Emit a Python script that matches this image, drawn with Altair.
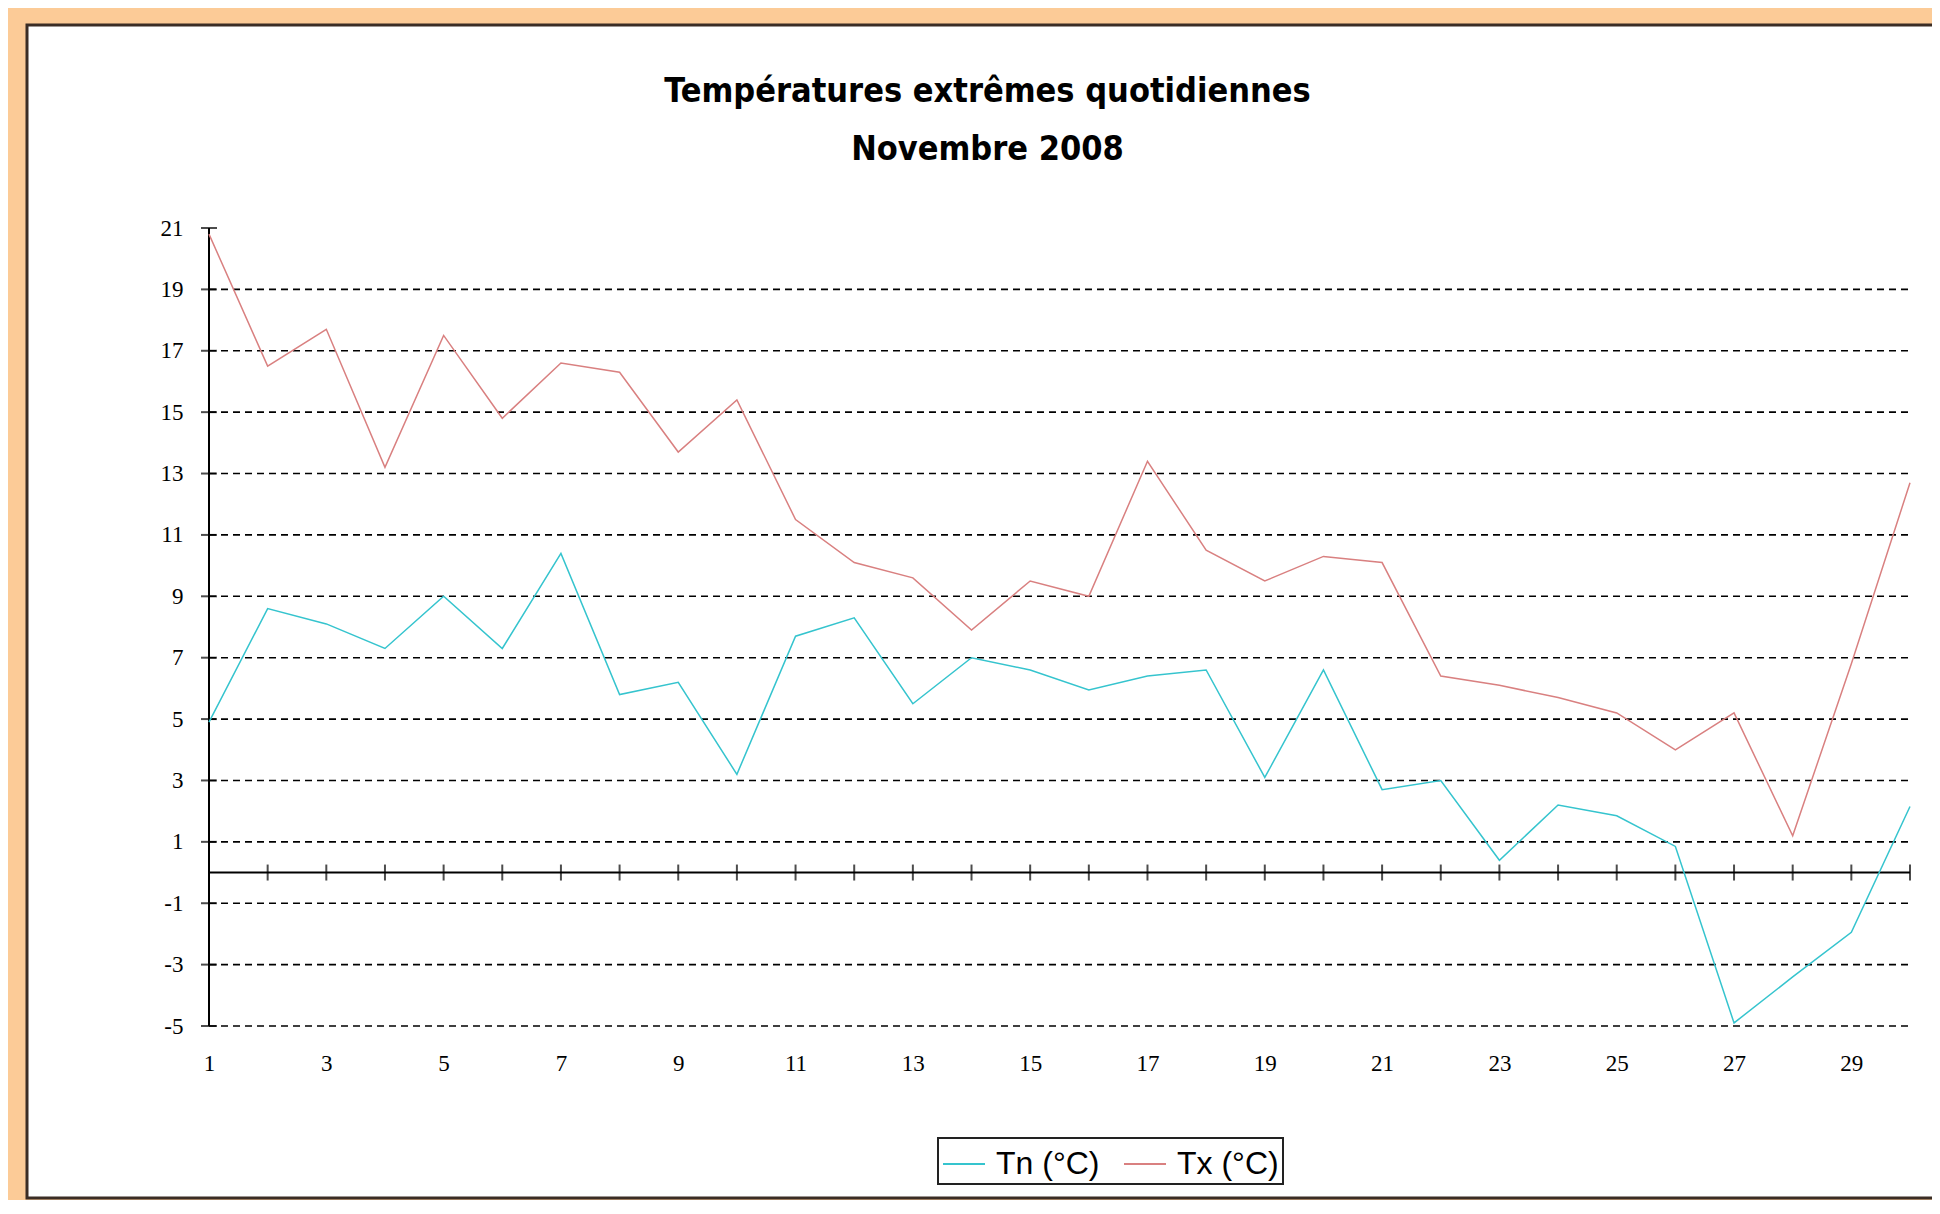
import altair as alt
import pandas as pd

# ---- data ----
days = list(range(1, 31))
tn = [4.9, 8.6, 8.1, 7.3, 9.0, 7.3, 10.4, 5.8, 6.2, 3.2,
      7.7, 8.3, 5.5, 7.0, 6.6, 5.95, 6.4, 6.6, 3.1, 6.6,
      2.7, 3.0, 0.4, 2.2, 1.85, 0.85, -4.9, -3.4, -1.95, 2.15]
tx = [20.8, 16.5, 17.7, 13.2, 17.5, 14.8, 16.6, 16.3, 13.7, 15.4,
      11.5, 10.1, 9.6, 7.9, 9.5, 9.0, 13.4, 10.5, 9.5, 10.3,
      10.1, 6.4, 6.1, 5.7, 5.2, 4.0, 5.2, 1.2, 6.8, 12.7]
series_names = ["Tn (°C)", "Tx (°C)"]
series_colors = ["#35C4CE", "#D98080"]
x_label_days = list(range(1, 30, 2))
y_tick_values = list(range(-5, 22, 2))
grid_values = list(range(-5, 20, 2))
title_line1 = "Températures extrêmes quotidiennes"
title_line2 = "Novembre 2008"

W, H = 1701, 798

df = pd.DataFrame({
    "day": days * 2,
    "temp": tn + tx,
    "serie": [series_names[0]] * len(days) + [series_names[1]] * len(days),
})

xs = alt.Scale(domain=[1, 30], nice=False, zero=False)
ys = alt.Scale(domain=[-5, 21], nice=False, zero=False)

label_font = "Liberation Serif"
title_font = "DejaVu Sans Condensed, DejaVu Sans"

x_axis = alt.Axis(values=x_label_days, title=None, grid=False, domain=False,
                  ticks=False, tickSize=0, labelPadding=26, labelFont=label_font,
                  labelFontSize=23, labelColor="black", zindex=1,
                  labelFlush=False, labelOverlap=False,
                  labelExpr="'' + datum.value")
y_axis = alt.Axis(values=y_tick_values, title=None, grid=False, domain=False,
                  ticks=False, tickSize=0, labelPadding=26, labelFont=label_font,
                  labelFontSize=23, labelColor="black", zindex=1,
                  labelFlush=False, labelOverlap=False,
                  labelExpr="'' + datum.value")


def X(field):
    return alt.X(field, scale=xs, axis=x_axis)


def Y(field):
    return alt.Y(field, scale=ys, axis=y_axis)


one = pd.DataFrame({"k": [0]})

# white chart area with dark border (decoration)
frame = alt.Chart(one).mark_rect(
    fill="white", stroke="#3b2d25", strokeWidth=3
).encode(x=alt.value(-182), x2=alt.value(W + 80),
         y=alt.value(-203), y2=alt.value(H + 172))

title1 = alt.Chart(one).mark_text(
    text=title_line1, font=title_font, fontSize=34,
    fontWeight="bold", color="black", align="center", baseline="alphabetic"
).encode(x=alt.value(W / 2 - 72), y=alt.value(-126))

title2 = alt.Chart(one).mark_text(
    text=title_line2, font=title_font, fontSize=34,
    fontWeight="bold", color="black", align="center", baseline="alphabetic"
).encode(x=alt.value(W / 2 - 72), y=alt.value(-68))

grid_df = pd.DataFrame({"g": grid_values, "x0": 1, "x1": 30})
grid = alt.Chart(grid_df).mark_rule(
    color="black", strokeWidth=1.6, strokeDash=[7, 5]
).encode(y=Y("g:Q"), x=X("x0:Q"), x2="x1:Q")

xline = alt.Chart(pd.DataFrame({"y0": [0], "x0": [1], "x1": [30]})).mark_rule(
    color="black", strokeWidth=2
).encode(y=Y("y0:Q"), x=X("x0:Q"), x2="x1:Q")

yline = alt.Chart(pd.DataFrame({"x0": [1], "y0": [-5], "y1": [21]})).mark_rule(
    color="black", strokeWidth=2
).encode(x=X("x0:Q"), y=Y("y0:Q"), y2="y1:Q")

xticks = alt.Chart(pd.DataFrame({"day": days, "z": 0})).mark_tick(
    orient="vertical", size=16, thickness=2, color="black"
).encode(x=X("day:Q"), y=Y("z:Q"))

yticks = alt.Chart(pd.DataFrame({"v": y_tick_values, "x0": 1})).mark_tick(
    orient="horizontal", size=16, thickness=2, color="black"
).encode(y=Y("v:Q"), x=X("x0:Q"))

lines = alt.Chart(df).mark_line(strokeWidth=1.5).encode(
    x=X("day:Q"),
    y=Y("temp:Q"),
    color=alt.Color(
        "serie:N",
        scale=alt.Scale(domain=series_names, range=series_colors),
        legend=alt.Legend(
            title=None, orient="none", legendX=729, legendY=910,
            direction="horizontal", symbolType="stroke", symbolSize=1764,
            symbolStrokeWidth=2, labelFont="Liberation Sans", labelFontSize=32,
            labelColor="black", labelOffset=10, columnPadding=20, padding=4,
            strokeColor="#222222", fillColor="white", cornerRadius=0,
            labelLimit=0,
        ),
    ),
)

chart = alt.layer(frame, title1, title2, grid, xline, yline, xticks, yticks, lines).properties(
    width=W, height=H,
    autosize=alt.AutoSizeParams(type="none"),
    padding={"left": 201, "top": 220, "right": 22, "bottom": 174},
    background="#FCCB97",
).configure_view(stroke=None).configure_legend(strokeWidth=2)

chart.save("out.html", embed_options={"renderer": "svg", "actions": False})
